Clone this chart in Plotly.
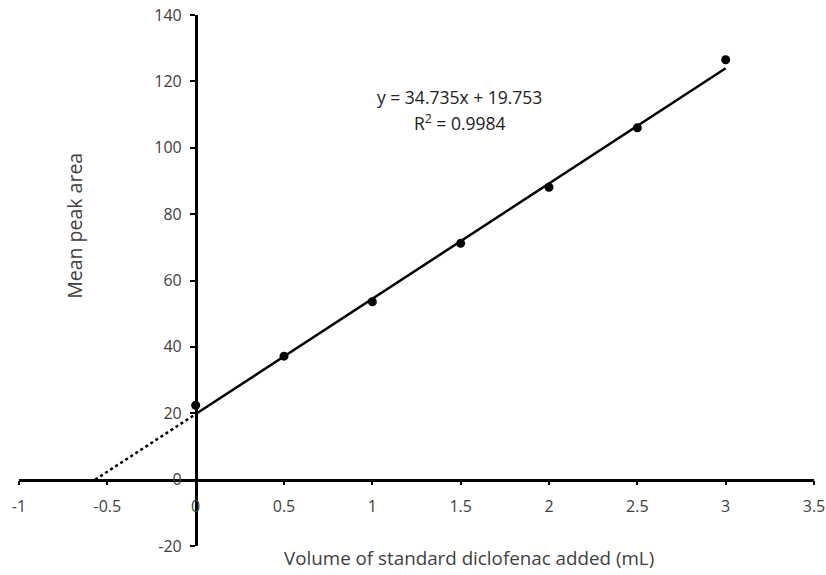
import plotly.graph_objects as go

# Data
volume_ml = [0, 0.5, 1, 1.5, 2, 2.5, 3]
mean_peak_area = [22.4, 37.2, 53.6, 71.2, 88.1, 106.0, 126.5]
slope = 34.735
intercept = 19.753
r_squared = 0.9984

x_tickvals = [-1, -0.5, 0, 0.5, 1, 1.5, 2, 2.5, 3, 3.5]
x_ticktext = ["-1", "-0.5", "0", "0.5", "1", "1.5", "2", "2.5", "3", "3.5"]
y_tickvals = [-20, 0, 20, 40, 60, 80, 100, 120, 140]
y_ticktext = ["-20", "0", "20", "40", "60", "80", "100", "120", "140"]

x_range = [-1, 3.5]
y_range = [-20, 140]

FONT = "Open Sans"
TXT = "#404040"

fit_x = [min(volume_ml), max(volume_ml)]
fit_y = [slope * v + intercept for v in fit_x]
x_int = -intercept / slope
ext_x = [x_int, 0]
ext_y = [slope * v + intercept for v in ext_x]

fig = go.Figure()
fig.add_trace(go.Scatter(x=ext_x, y=ext_y, mode="lines",
                         line=dict(color="black", width=2.5, dash="dot"),
                         showlegend=False, hoverinfo="skip"))
fig.add_trace(go.Scatter(x=fit_x, y=fit_y, mode="lines",
                         line=dict(color="black", width=2.5),
                         showlegend=False, hoverinfo="skip"))
fig.add_trace(go.Scatter(x=volume_ml, y=mean_peak_area, mode="markers",
                         marker=dict(color="black", size=9),
                         showlegend=False))

x_pos = (0 - y_range[0]) / (y_range[1] - y_range[0])
y_pos = (0 - x_range[0]) / (x_range[1] - x_range[0])

fig.update_layout(
    width=826, height=575,
    margin=dict(l=19, r=12, t=15, b=29, autoexpand=False),
    paper_bgcolor="white", plot_bgcolor="white",
    font=dict(family=FONT, color=TXT, size=16),
    xaxis=dict(range=x_range, anchor="free", position=x_pos, automargin=False,
               showline=True, linecolor="black", linewidth=2.5,
               ticks="outside", ticklen=4, tickwidth=2, tickcolor="black",
               tickvals=x_tickvals, ticktext=x_ticktext, ticklabelstandoff=7,
               showgrid=False, zeroline=False,
               tickfont=dict(family=FONT, color=TXT, size=16)),
    yaxis=dict(range=y_range, anchor="free", position=y_pos, automargin=False,
               showline=True, linecolor="black", linewidth=2.5,
               ticks="outside", ticklen=5, tickwidth=2, tickcolor="black",
               tickvals=y_tickvals, ticktext=y_ticktext, ticklabelstandoff=5,
               showgrid=False, zeroline=False,
               tickfont=dict(family=FONT, color=TXT, size=16)),
    annotations=[
        dict(text="Volume of standard diclofenac added (mL)", xref="paper", yref="paper",
             x=0.566, y=-0.023, xanchor="center", yanchor="middle", showarrow=False,
             font=dict(family=FONT, color=TXT, size=18.8)),
        dict(text="Mean peak area", xref="paper", yref="paper",
             x=0.0704, y=0.603, xanchor="center", yanchor="middle", showarrow=False,
             textangle=-90, font=dict(family=FONT, color=TXT, size=19.5)),
        dict(text=f"y = {slope}x + {intercept}", xref="paper", yref="paper",
             x=0.5545, y=(545.7 - 97) / 530.4, xanchor="center", yanchor="middle",
             showarrow=False, font=dict(family=FONT, color="#222222", size=17.5)),
        dict(text=f"R<sup>2</sup> = {r_squared}", xref="paper", yref="paper",
             x=0.5545, y=(545.7 - 123) / 530.4, xanchor="center", yanchor="middle",
             showarrow=False, font=dict(family=FONT, color="#222222", size=17.5)),
    ],
)

fig.write_html("out.html")
